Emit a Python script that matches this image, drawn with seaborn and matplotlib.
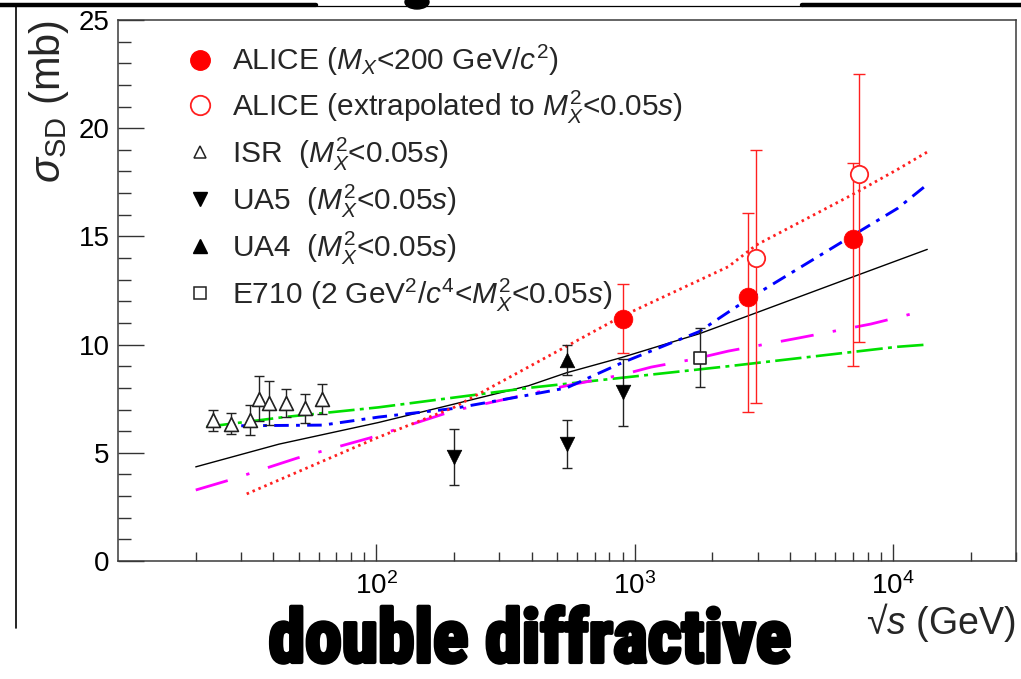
import numpy as np
import pandas as pd
import matplotlib
matplotlib.use("Agg")
import matplotlib.pyplot as plt
import seaborn as sns
from matplotlib.lines import Line2D
from matplotlib.patches import Ellipse
from matplotlib import font_manager
import matplotlib.patheffects as pe
from matplotlib.ticker import MultipleLocator, LogLocator, NullFormatter, FixedLocator

# ---------------- data ----------------
alice_x = [900, 2760, 7000]
alice_y = [11.2, 12.2, 14.9]
alice_eup = [1.6, 3.9, 3.5]
alice_edn = [1.6, 5.3, 5.9]

alice_ext_x = [2960, 7400]
alice_ext_y = [14.0, 17.9]
alice_ext_eup = [5.0, 4.6]
alice_ext_edn = [6.7, 7.8]

isr_x = [23.3, 27.3, 32.4, 35.3, 38.3, 44.6, 53.2, 61.7]
isr_y = [6.5, 6.35, 6.5, 7.5, 7.3, 7.3, 7.05, 7.5]
isr_err = [0.5, 0.5, 0.7, 1.05, 1.0, 0.65, 0.65, 0.7]

ua5_x = [200, 546, 900]
ua5_y = [4.8, 5.4, 7.8]
ua5_err = [1.3, 1.1, 1.55]

ua4_x = [546]
ua4_y = [9.3]
ua4_err = [0.7]

e710_x = [1800]
e710_y = [9.4]
e710_err = [1.37]

black_x = [20, 42, 102, 200, 389, 546, 890, 1780, 2710, 6900, 13600]
black_y = [4.35, 5.4, 6.4, 7.25, 8.1, 8.7, 9.4, 10.5, 11.3, 13.1, 14.4]

green_x = [22, 44, 102, 389, 2307, 10450, 13600]
green_y = [6.2, 6.65, 7.1, 8.0, 9.0, 9.9, 10.0]

blue_x = [30, 62, 102, 200, 389, 546, 660, 890, 1780, 2307, 2710, 6900, 10450, 13600]
blue_y = [6.25, 6.28, 6.65, 7.05, 7.67, 8.0, 8.45, 9.15, 10.6, 11.5, 12.05, 15.0, 16.3, 17.4]

magenta_x = [20, 27, 49.5, 94, 200, 546, 890, 1160, 1700, 2307, 4300, 8220, 13600]
magenta_y = [3.28, 3.74, 4.76, 5.68, 6.95, 8.1, 8.6, 8.96, 9.33, 9.7, 10.3, 10.95, 11.6]

red_x = [31.5, 100, 200, 389, 890, 2307, 2960, 6900, 10450, 13600]
red_y = [3.1, 5.68, 7.1, 8.97, 11.3, 13.6, 14.6, 16.9, 18.1, 18.9]

xtick_vals = [1e2, 1e3, 1e4]
xtick_labels = [r"$10^2$", r"$10^3$", r"$10^4$"]

legend_labels = [
    r"ALICE ($M_X$<200 GeV/$c^2$)",
    r"ALICE (extrapolated to $M_X^2$<0.05$s$)",
    r"ISR  ($M_X^2$<0.05$s$)",
    r"UA5  ($M_X^2$<0.05$s$)",
    r"UA4  ($M_X^2$<0.05$s$)",
    r"E710 (2 GeV$^2$/$c^4$<$M_X^2$<0.05$s$)",
]

# ---------------- style ----------------
sns.set_style("white")
plt.rcParams["font.family"] = ["Liberation Sans", "DejaVu Sans"]
plt.rcParams["mathtext.fontset"] = "custom"
plt.rcParams["mathtext.rm"] = "Liberation Sans"
plt.rcParams["mathtext.it"] = "Liberation Sans:italic"
plt.rcParams["mathtext.bf"] = "Liberation Sans:bold"

W, H = 1021, 679
fig = plt.figure(figsize=(W / 100, H / 100), dpi=100)
ax = fig.add_axes([118 / W, 1 - 561 / H, (1016 - 118) / W, (561 - 20) / H])

# ---------------- model curves ----------------
def curve(xs, ys, color, lw, dashes=None):
    sns.lineplot(x=xs, y=ys, ax=ax, color=color, lw=lw, estimator=None,
                 sort=False, legend=False)
    ln = ax.lines[-1]
    if dashes is not None:
        ln.set_dashes(dashes)
    ln.set_zorder(2)

curve(black_x, black_y, "black", 1.0)
curve(green_x, green_y, "#00e000", 1.9, (10, 2, 1.5, 2))
curve(magenta_x, magenta_y, "#ff00ff", 2.0, (12, 7, 1.2, 7))
curve(blue_x, blue_y, "#0000ff", 2.1, (5, 2.5, 1.3, 2.5))
curve(red_x, red_y, "#ff2020", 2.0, (0.9, 1.4))

# ---------------- data points ----------------
def points(xs, ys, edn, eup, marker, size, face, edge, ecolor, lw=1.2, cap=3.5):
    ax.errorbar(xs, ys, yerr=[edn, eup], fmt="none", ecolor=ecolor,
                elinewidth=1.0, capsize=cap, capthick=1.0, zorder=3)
    sns.scatterplot(x=xs, y=ys, ax=ax, marker=marker, s=size ** 2,
                    legend=False, zorder=4)
    coll = ax.collections[-1]
    coll.set_facecolor(face)
    coll.set_edgecolor(edge)
    coll.set_linewidth(lw)

points(isr_x, isr_y, isr_err, isr_err, "^", 10, "white", "#222222", "#222222", 1.2, 3.5)
points(ua5_x, ua5_y, ua5_err, ua5_err, "v", 10.5, "black", "black", "#222222", 0.5, 3.5)
points(ua4_x, ua4_y, ua4_err, ua4_err, "^", 10.5, "black", "black", "#222222", 0.5, 3.5)
points(e710_x, e710_y, e710_err, e710_err, "s", 8.5, "white", "#222222", "#222222", 1.2, 3.5)
points(alice_ext_x, alice_ext_y, alice_ext_edn, alice_ext_eup, "o", 12.5, "white", "#ff2020", "#ff2020", 1.3, 4)
points(alice_x, alice_y, alice_edn, alice_eup, "o", 13.5, "#ff0000", "#ff0000", "#ff2020", 0.5, 4)

# ---------------- axes ----------------
ax.set_xscale("log")
ax.set_xlim(10, 3e4)
ax.set_ylim(0, 25)
ax.yaxis.set_major_locator(MultipleLocator(5))
ax.yaxis.set_minor_locator(MultipleLocator(1))
ax.xaxis.set_major_locator(FixedLocator(xtick_vals))
ax.set_xticklabels(xtick_labels)
ax.xaxis.set_minor_locator(LogLocator(base=10, subs=np.arange(2, 10), numticks=20))
ax.xaxis.set_minor_formatter(NullFormatter())

for s in ax.spines.values():
    s.set_color("#3a3a3a")
    s.set_linewidth(1.1)
ax.tick_params(axis="both", which="both", direction="in", top=False, right=False,
               bottom=True, left=True,
               color="#333333", width=1.0, labelsize=20, labelcolor="black")
ax.tick_params(axis="y", which="major", length=19, pad=6)
ax.tick_params(axis="y", which="minor", length=9.5)
ax.tick_params(axis="x", which="major", length=12, pad=8)
ax.tick_params(axis="x", which="minor", length=6.5)

ax.set_ylabel(r"$\sigma_{\rm SD}$ (mb)", fontsize=30, loc="top")
ax.yaxis.set_label_coords(-0.052, 1.0)
ax.set_xlabel(r"√$s$ (GeV)", fontsize=27, loc="right")
ax.xaxis.set_label_coords(1.0, -0.074)

# ---------------- legend ----------------
handles = [
    Line2D([], [], ls="none", marker="o", ms=14, mfc="#ff0000", mec="#ff0000"),
    Line2D([], [], ls="none", marker="o", ms=14, mfc="white", mec="#ff2020", mew=1.3),
    Line2D([], [], ls="none", marker="^", ms=9, mfc="white", mec="#222222", mew=1.1),
    Line2D([], [], ls="none", marker="v", ms=10, mfc="black", mec="black"),
    Line2D([], [], ls="none", marker="^", ms=10, mfc="black", mec="black"),
    Line2D([], [], ls="none", marker="s", ms=9, mfc="white", mec="#222222", mew=1.1),
]
ax.legend(handles, legend_labels, loc="upper left", bbox_to_anchor=(0.075, 0.957),
          frameon=False, fontsize=21.5, handlelength=1.0, handletextpad=0.55,
          labelspacing=0.33, borderpad=0, borderaxespad=0)

# ---------------- slide decorations ----------------
fig.add_artist(Line2D([0, 316 / W], [1 - 5 / H] * 2, color="black", lw=3.2))
fig.add_artist(Line2D([316 / W, 802 / W], [1 - 6 / H] * 2, color="black", lw=0.9))
fig.add_artist(Line2D([802 / W, 1], [1 - 5 / H] * 2, color="black", lw=3.2))
fig.add_artist(Line2D([16 / W, 16 / W], [1 - 4 / H, 1 - 628 / H], color="black", lw=1.2))
fig.add_artist(Ellipse((417 / W, 1 - 2 / H), 24 / W, 14 / H, color="black"))

# big slide caption
avail = {f.name for f in font_manager.fontManager.ttflist}
cap_family = "Liberation Sans"
for cand in ["Liberation Sans Narrow", "DejaVu Sans Condensed", "Roboto Condensed", "Liberation Sans"]:
    if cand in avail:
        cap_family = cand
        break
fig.text(530 / W, 2 / H, "double diffractive", ha="center", va="bottom",
         fontsize=53, family=cap_family, weight="bold", color="black",
         path_effects=[pe.withStroke(linewidth=3.0, foreground="black")])

fig.savefig("out.png", dpi=100)
